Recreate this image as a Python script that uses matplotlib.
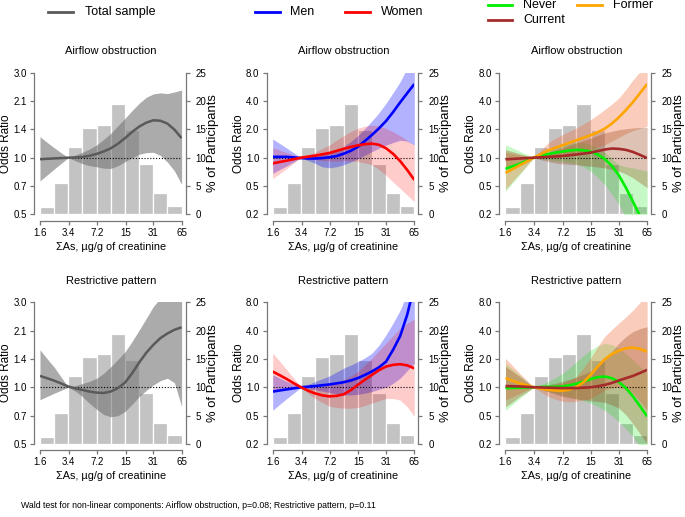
import numpy as np
import matplotlib
matplotlib.use('Agg')
import matplotlib.pyplot as plt
from matplotlib.ticker import FixedLocator, FixedFormatter, NullLocator
from matplotlib.lines import Line2D

plt.rcParams['font.family'] = ['Liberation Sans', 'DejaVu Sans']

# ---------------- data ----------------
as_grid = [1.6, 1.93, 2.32, 2.79, 3.36, 4.04, 4.86, 5.85, 7.04, 8.48, 10.2,
           12.3, 14.8, 17.8, 21.4, 25.8, 31.0, 37.3, 44.9, 54.0, 65]
bin_edges = [1.6, 2.32, 3.36, 4.86, 7.04, 10.2, 14.8, 21.4, 31.0, 44.9, 65]
pct_participants = [1.24, 5.5, 11.9, 15.3, 15.8, 19.4, 14.9, 8.9, 3.7, 1.5]

x_ticks = [1.6, 3.4, 7.2, 15, 31, 65]
x_ticklabels = ['1.6', '3.4', '7.2', '15', '31', '65']
pct_ticks = [0, 5, 10, 15, 20, 25]
pct_ticklabels = ['0', '5', '10', '15', '20', '25']
or_ticks_total = [0.4771, 0.6907, 1.0, 1.4477, 2.0959, 3.0344]
or_ticklabels_total = ['0.5', '0.7', '1.0', '1.4', '2.1', '3.0']
or_ticks_strat = [0.25, 0.5, 1.0, 2.0, 4.0, 8.0]
or_ticklabels_strat = ['0.2', '0.5', '1.0', '2.0', '4.0', '8.0']

# Airflow obstruction - total sample
air_total_or = [0.98, 0.985, 0.99, 0.995, 1.0, 1.003, 1.01, 1.025, 1.05, 1.085, 1.13,
                1.20, 1.29, 1.40, 1.50, 1.58, 1.63, 1.62, 1.56, 1.44, 1.29]
air_total_hi = [1.315, 1.22, 1.138, 1.065, 1.0, 1.035, 1.073, 1.12, 1.181, 1.27, 1.375,
                1.52, 1.673, 1.85, 2.035, 2.2, 2.30, 2.33, 2.31, 2.36, 2.42]
air_total_lo = [0.738, 0.798, 0.862, 0.929, 1.0, 0.96, 0.925, 0.90, 0.888, 0.872, 0.869,
                0.90, 0.95, 1.0, 1.045, 1.068, 1.073, 1.03, 0.943, 0.84, 0.706]
# Restrictive pattern - total sample
res_total_or = [1.16, 1.125, 1.09, 1.05, 1.01, 0.985, 0.966, 0.945, 0.932, 0.928, 0.946,
                0.99, 1.063, 1.20, 1.38, 1.57, 1.74, 1.90, 2.02, 2.12, 2.19]
res_total_hi = [1.63, 1.45, 1.30, 1.14, 1.0, 1.02, 1.05, 1.08, 1.125, 1.2, 1.31,
                1.44, 1.59, 1.82, 2.11, 2.46, 2.87, 3.2, 3.4, 3.6, 3.8]
res_total_lo = [0.85, 0.887, 0.925, 0.962, 1.0, 0.95, 0.885, 0.81, 0.75, 0.70, 0.68,
                0.69, 0.73, 0.80, 0.885, 0.96, 1.03, 1.09, 1.125, 1.06, 0.78]

# Airflow obstruction - by sex
air_men_or = [1.02, 1.02, 1.02, 1.005, 0.99, 0.98, 0.98, 0.99, 1.01, 1.04, 1.10,
              1.18, 1.30, 1.50, 1.74, 2.05, 2.45, 3.05, 3.87, 4.85, 6.06]
air_men_hi = [1.58, 1.41, 1.26, 1.12, 1.0, 1.02, 1.05, 1.08, 1.12, 1.2, 1.31,
              1.48, 1.71, 2.03, 2.45, 3.0, 3.78, 4.9, 6.4, 9.0, 12.0]
air_men_lo = [0.68, 0.75, 0.82, 0.905, 1.0, 0.93, 0.87, 0.80, 0.78, 0.80, 0.84,
              0.90, 0.97, 1.06, 1.16, 1.26, 1.36, 1.45, 1.53, 1.5, 1.36]
air_women_or = [0.87, 0.90, 0.93, 0.965, 1.0, 1.025, 1.05, 1.085, 1.12, 1.18, 1.24,
                1.30, 1.35, 1.39, 1.41, 1.37, 1.26, 1.10, 0.92, 0.74, 0.58]
air_women_hi = [1.28, 1.2, 1.13, 1.065, 1.0, 1.07, 1.14, 1.25, 1.36, 1.53, 1.71,
                1.89, 2.05, 2.16, 2.22, 2.17, 2.05, 1.88, 1.71, 1.53, 1.36]
air_women_lo = [0.60, 0.68, 0.77, 0.88, 1.0, 0.975, 0.95, 0.93, 0.92, 0.92, 0.93,
                0.925, 0.91, 0.88, 0.84, 0.75, 0.65, 0.55, 0.47, 0.40, 0.34]
# Restrictive pattern - by sex
res_men_or = [0.90, 0.925, 0.95, 0.975, 1.0, 1.015, 1.03, 1.05, 1.07, 1.10, 1.13,
              1.18, 1.25, 1.35, 1.47, 1.63, 1.87, 2.5, 3.5, 5.9, 12.0]
res_men_hi = [1.36, 1.25, 1.15, 1.07, 1.0, 1.07, 1.15, 1.23, 1.32, 1.45, 1.59,
              1.72, 1.87, 2.05, 2.3, 2.8, 3.6, 4.8, 6.6, 10.0, 20.0]
res_men_lo = [0.57, 0.66, 0.76, 0.87, 1.0, 0.97, 0.94, 0.91, 0.88, 0.855, 0.83,
              0.83, 0.84, 0.865, 0.90, 0.95, 1.0, 1.1, 1.25, 1.5, 1.8]
res_women_or = [1.47, 1.34, 1.22, 1.1, 1.0, 0.92, 0.86, 0.82, 0.80, 0.81, 0.84,
                0.93, 1.06, 1.2, 1.35, 1.52, 1.66, 1.73, 1.76, 1.71, 1.59]
res_women_hi = [2.3, 1.88, 1.53, 1.24, 1.0, 0.99, 1.0, 1.02, 1.06, 1.12, 1.2,
                1.31, 1.47, 1.72, 2.03, 2.45, 2.93, 3.55, 4.23, 4.8, 5.3]
res_women_lo = [0.93, 0.935, 0.94, 0.97, 1.0, 0.86, 0.76, 0.69, 0.63, 0.61, 0.60,
                0.60, 0.61, 0.64, 0.68, 0.72, 0.76, 0.76, 0.73, 0.62, 0.49]

# Airflow obstruction - by smoking status
air_never_or = [0.76, 0.81, 0.86, 0.93, 1.0, 1.05, 1.09, 1.13, 1.16, 1.19, 1.21,
                1.20, 1.16, 1.08, 0.97, 0.82, 0.65, 0.48, 0.34, 0.24, 0.17]
air_never_hi = [1.37, 1.27, 1.17, 1.08, 1.0, 1.1, 1.19, 1.28, 1.37, 1.43, 1.47,
                1.44, 1.37, 1.27, 1.15, 0.98, 0.84, 0.8, 0.78, 0.75, 0.72]
air_never_lo = [0.44, 0.54, 0.66, 0.81, 1.0, 0.975, 0.95, 0.93, 0.91, 0.89, 0.86,
                0.80, 0.72, 0.62, 0.52, 0.41, 0.32, 0.23, 0.16, 0.11, 0.08]
air_former_or = [0.69, 0.755, 0.83, 0.91, 1.0, 1.095, 1.19, 1.27, 1.35, 1.44, 1.53,
                 1.63, 1.73, 1.86, 2.03, 2.3, 2.68, 3.2, 3.9, 4.85, 6.06]
air_former_hi = [1.15, 1.11, 1.07, 1.035, 1.0, 1.2, 1.43, 1.6, 1.75, 1.9, 2.07,
                 2.28, 2.53, 2.85, 3.24, 3.7, 4.3, 5.3, 6.7, 8.2, 10.0]
air_former_lo = [0.46, 0.56, 0.68, 0.825, 1.0, 0.995, 0.99, 1.0, 1.03, 1.07, 1.12,
                 1.17, 1.22, 1.29, 1.37, 1.5, 1.64, 1.8, 1.94, 2.05, 2.15]
air_current_or = [0.96, 0.97, 0.98, 0.99, 1.0, 1.01, 1.02, 1.03, 1.04, 1.06, 1.08,
                  1.105, 1.13, 1.175, 1.22, 1.25, 1.24, 1.21, 1.15, 1.07, 0.99]
air_current_hi = [1.22, 1.16, 1.10, 1.05, 1.0, 1.06, 1.12, 1.19, 1.27, 1.35, 1.43,
                  1.52, 1.61, 1.72, 1.83, 1.91, 1.98, 2.03, 2.07, 2.09, 2.10]
air_current_lo = [0.76, 0.81, 0.87, 0.93, 1.0, 0.95, 0.91, 0.88, 0.86, 0.85, 0.84,
                  0.825, 0.81, 0.795, 0.78, 0.75, 0.72, 0.67, 0.61, 0.54, 0.48]
# Restrictive pattern - by smoking status
res_never_or = [0.98, 0.985, 0.99, 0.995, 1.0, 1.005, 1.01, 1.015, 1.02, 1.05, 1.09,
                1.15, 1.22, 1.28, 1.30, 1.25, 1.14, 0.98, 0.80, 0.63, 0.49]
res_never_hi = [1.8, 1.56, 1.35, 1.16, 1.0, 1.07, 1.15, 1.26, 1.39, 1.6, 1.87,
                2.17, 2.49, 2.75, 2.93, 2.85, 2.6, 2.28, 1.95, 1.66, 1.41]
res_never_lo = [0.57, 0.66, 0.76, 0.87, 1.0, 0.95, 0.90, 0.865, 0.83, 0.795, 0.76,
                0.72, 0.68, 0.625, 0.57, 0.5, 0.43, 0.36, 0.30, 0.23, 0.17]
res_former_or = [1.25, 1.17, 1.10, 1.05, 1.0, 0.965, 0.94, 0.925, 0.92, 0.94, 1.0,
                 1.13, 1.35, 1.65, 1.98, 2.25, 2.45, 2.6, 2.64, 2.55, 2.39]
res_former_hi = [2.03, 1.69, 1.41, 1.19, 1.0, 1.02, 1.05, 1.07, 1.1, 1.18, 1.3,
                 1.6, 2.03, 2.7, 3.45, 4.1, 4.8, 5.6, 6.6, 8.0, 10.0]
res_former_lo = [0.73, 0.79, 0.86, 0.93, 1.0, 0.89, 0.80, 0.75, 0.71, 0.70, 0.71,
                 0.73, 0.76, 0.84, 0.94, 0.98, 1.0, 0.95, 0.86, 0.71, 0.57]
res_current_or = [1.03, 1.025, 1.02, 1.01, 1.0, 0.995, 0.99, 0.985, 0.98, 0.98, 0.98,
                  0.99, 1.0, 1.025, 1.06, 1.11, 1.18, 1.25, 1.32, 1.42, 1.53]
res_current_hi = [1.66, 1.47, 1.3, 1.14, 1.0, 1.03, 1.06, 1.1, 1.15, 1.21, 1.28,
                  1.37, 1.47, 1.68, 1.95, 2.4, 2.93, 3.45, 3.9, 4.2, 4.4]
res_current_lo = [0.62, 0.70, 0.80, 0.89, 1.0, 0.95, 0.90, 0.85, 0.80, 0.775, 0.75,
                  0.735, 0.72, 0.705, 0.69, 0.65, 0.60, 0.51, 0.41, 0.32, 0.25]

# ---------------- styles ----------------
C_TOTAL, B_TOTAL = '#5a5a5a', (0.45, 0.45, 0.45, 0.6)
C_MEN, B_MEN = '#0000ff', (0.0, 0.0, 1.0, 0.3)
C_WOMEN, B_WOMEN = '#ff0000', (1.0, 0.0, 0.0, 0.2)
C_NEVER, B_NEVER = '#00ee00', (0.0, 0.9, 0.0, 0.22)
C_FORMER, B_FORMER = '#ffa500', (0.94, 0.4, 0.2, 0.33)
C_CURRENT, B_CURRENT = '#a52a2a', (0.6, 0.28, 0.1, 0.32)
AXCOL = '#777777'
BAR_COL = '#c3c3c3'

W, H = 685, 517
fig = plt.figure(figsize=(W / 100, H / 100), dpi=100)

PW = PH = 141.6
col_left = [40.0, 272.7, 505.5]
row_top = [72.7, 302.3]


def add_panel(left, top, or_ticks, or_labels, title, groups):
    ax_h = fig.add_axes([left / W, 1 - (top + PH) / H, PW / W, PH / H])
    ax_h.set_xscale('log')
    widths = np.diff(bin_edges)
    ax_h.bar(bin_edges[:-1], pct_participants, width=widths, align='edge',
             color=BAR_COL, edgecolor='white', linewidth=0.9, zorder=1)
    ax_h.set_xlim(bin_edges[0], bin_edges[-1])
    ax_h.set_ylim(0, 25)
    ax_o = ax_h.twinx()
    ax_o.set_yscale('log')
    ax_o.set_ylim(or_ticks[0], or_ticks[-1])
    ax_o.set_xlim(bin_edges[0], bin_edges[-1])
    ax_h.yaxis.tick_right()
    ax_h.yaxis.set_label_position('right')
    ax_o.yaxis.tick_left()
    ax_o.yaxis.set_label_position('left')

    for o, lo, hi, col, band in groups:
        ax_o.fill_between(as_grid, lo, hi, color=band, linewidth=0)
    ax_o.plot([bin_edges[0], bin_edges[-1]], [1.0, 1.0], color='black',
              linestyle=(0, (1, 1.6)), linewidth=0.8)
    for o, lo, hi, col, band in groups:
        lw = 1.8 if col == C_TOTAL else 1.9
        ax_o.plot(as_grid, o, color=col, linewidth=lw, solid_capstyle='butt',
                  solid_joinstyle='round')

    # axes styling
    for sp in ['top', 'left']:
        ax_h.spines[sp].set_visible(False)
    ax_h.spines['right'].set_position(('outward', 3.0))
    ax_h.spines['right'].set_bounds(0, 25)
    ax_h.spines['bottom'].set_position(('outward', 4.6))
    ax_h.spines['bottom'].set_bounds(bin_edges[0], bin_edges[-1])
    for sp in ['top', 'right', 'bottom']:
        ax_o.spines[sp].set_visible(False)
    ax_o.spines['left'].set_position(('outward', 4.4))
    ax_o.spines['left'].set_bounds(or_ticks[0], or_ticks[-1])
    for a in (ax_h, ax_o):
        for sp in a.spines.values():
            sp.set_color(AXCOL)
            sp.set_linewidth(0.9)

    ax_h.xaxis.set_major_locator(FixedLocator(x_ticks))
    ax_h.xaxis.set_major_formatter(FixedFormatter(x_ticklabels))
    ax_h.xaxis.set_minor_locator(NullLocator())
    ax_h.yaxis.set_major_locator(FixedLocator(pct_ticks))
    ax_h.yaxis.set_major_formatter(FixedFormatter(pct_ticklabels))
    ax_o.yaxis.set_major_locator(FixedLocator(or_ticks))
    ax_o.yaxis.set_major_formatter(FixedFormatter(or_labels))
    ax_o.yaxis.set_minor_locator(NullLocator())
    ax_h.tick_params(axis='x', direction='out', length=3.2, width=0.9, color=AXCOL,
                     labelsize=7.0, pad=1.8)
    ax_h.tick_params(axis='y', direction='out', length=3.2, width=0.9, color=AXCOL,
                     labelsize=7.0, pad=4.0)
    ax_o.tick_params(axis='y', direction='out', length=3.2, width=0.9, color=AXCOL,
                     labelsize=7.0, pad=2.0)

    cx = (left + PW / 2) / W
    fig.text(cx, 1 - (top - 21.7) / H, title, ha='center', va='center', fontsize=8)
    fig.text(cx, 1 - (top + PH + 32.5) / H, '\u03a3As, \u00b5g/g of creatinine',
             ha='center', va='center', fontsize=7.8)
    fig.text((left - 34) / W, 1 - (top + PH / 2) / H, 'Odds Ratio', rotation=90,
             ha='center', va='center', fontsize=8.5)
    fig.text((left + PW + 31.5) / W, 1 - (top + PH / 2) / H, '% of Participants',
             rotation=90, ha='center', va='center', fontsize=9.4)


panels = [
    (0, 0, or_ticks_total, or_ticklabels_total, 'Airflow obstruction',
     [(air_total_or, air_total_lo, air_total_hi, C_TOTAL, B_TOTAL)]),
    (1, 0, or_ticks_strat, or_ticklabels_strat, 'Airflow obstruction',
     [(air_men_or, air_men_lo, air_men_hi, C_MEN, B_MEN),
      (air_women_or, air_women_lo, air_women_hi, C_WOMEN, B_WOMEN)]),
    (2, 0, or_ticks_strat, or_ticklabels_strat, 'Airflow obstruction',
     [(air_never_or, air_never_lo, air_never_hi, C_NEVER, B_NEVER),
      (air_former_or, air_former_lo, air_former_hi, C_FORMER, B_FORMER),
      (air_current_or, air_current_lo, air_current_hi, C_CURRENT, B_CURRENT)]),
    (0, 1, or_ticks_total, or_ticklabels_total, 'Restrictive pattern',
     [(res_total_or, res_total_lo, res_total_hi, C_TOTAL, B_TOTAL)]),
    (1, 1, or_ticks_strat, or_ticklabels_strat, 'Restrictive pattern',
     [(res_men_or, res_men_lo, res_men_hi, C_MEN, B_MEN),
      (res_women_or, res_women_lo, res_women_hi, C_WOMEN, B_WOMEN)]),
    (2, 1, or_ticks_strat, or_ticklabels_strat, 'Restrictive pattern',
     [(res_never_or, res_never_lo, res_never_hi, C_NEVER, B_NEVER),
      (res_former_or, res_former_lo, res_former_hi, C_FORMER, B_FORMER),
      (res_current_or, res_current_lo, res_current_hi, C_CURRENT, B_CURRENT)]),
]
for c, r, ticks, labels, title, groups in panels:
    add_panel(col_left[c], row_top[r], ticks, labels, title, groups)

# ---------------- legends ----------------
def legend_item(x0, x1, y, text, col, tx):
    fig.add_artist(Line2D([x0 / W, x1 / W], [1 - y / H, 1 - y / H], color=col,
                          linewidth=2.0, transform=fig.transFigure))
    fig.text(tx / W, 1 - y / H, text, ha='left', va='center', fontsize=9)

legend_item(48, 73, 12, 'Total sample', C_TOTAL, 85)
legend_item(255, 280, 12, 'Men', C_MEN, 290)
legend_item(345, 370, 12, 'Women', C_WOMEN, 381)
legend_item(488, 512, 5, 'Never', C_NEVER, 523)
legend_item(577, 602, 5, 'Former', C_FORMER, 613)
legend_item(488, 512, 20, 'Current', C_CURRENT, 523)

fig.text(20.7 / W, 1 - 505 / H,
         'Wald test for non-linear components: Airflow obstruction, p=0.08; '
         'Restrictive pattern, p=0.11', ha='left', va='center', fontsize=6.3)

fig.savefig('out.png', dpi=100)
